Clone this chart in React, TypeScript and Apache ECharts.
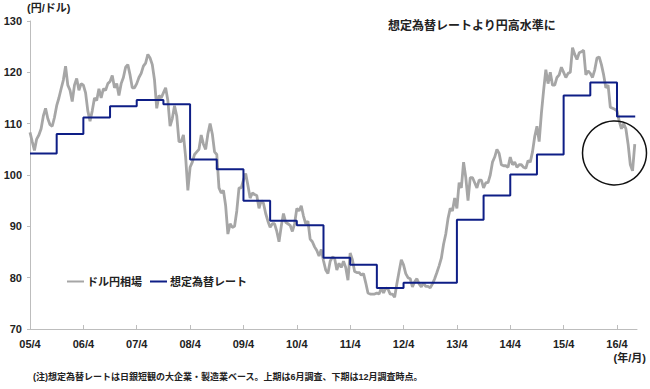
import React, { useEffect, useRef } from "react";
import * as echarts from "echarts";

// X tick labels (every April), month index 0 = 2005/4
const tickLabels = ["05/4", "06/4", "07/4", "08/4", "09/4", "10/4", "11/4", "12/4", "13/4", "14/4", "15/4", "16/4"];

// USD/JPY, two readings per month (1st and 16th), from 2005/4
const fx2005 = [108.3, 106.5, 104.8, 107.0, 107.8, 109.0, 111.5, 113.0, 111.0, 109.8, 109.5, 111.2, 113.5, 115.0, 116.8, 118.5, 121.2, 117.5];
const fx2006 = [116.5, 114.3, 117.5, 118.8, 116.5, 117.8, 117.5, 116.0, 112.5, 110.5, 112.5, 115.0, 114.5, 116.8, 115.0, 116.8, 116.5, 117.8, 118.2, 119.4, 117.0, 117.8, 115.5, 117.8];
const fx2007 = [119.0, 121.0, 121.5, 119.5, 117.0, 117.0, 117.8, 119.0, 119.8, 121.2, 121.8, 123.5, 122.8, 121.5, 118.5, 113.0, 115.5, 115.0, 116.0, 117.0, 114.5, 109.5, 111.0, 113.5];
const fx2008 = [111.5, 106.5, 106.5, 107.8, 103.5, 97.0, 101.5, 102.5, 104.0, 104.5, 105.0, 107.8, 106.0, 105.0, 108.0, 110.0, 108.0, 104.5, 104.0, 97.5, 96.5, 97.0, 94.0, 88.5];
const fx2009 = [90.5, 89.8, 90.0, 93.0, 97.5, 97.5, 99.0, 100.3, 98.0, 95.5, 96.5, 96.2, 96.0, 93.5, 95.0, 94.5, 92.5, 91.0, 89.8, 90.5, 90.5, 89.0, 87.0, 90.0];
const fx2010 = [92.5, 90.8, 90.5, 90.2, 89.0, 90.5, 93.5, 93.0, 94.0, 92.0, 90.5, 91.0, 87.5, 87.0, 86.0, 85.3, 84.2, 85.5, 83.3, 81.5, 80.8, 83.2, 84.0, 83.8];
const fx2011 = [81.5, 82.8, 82.0, 83.2, 82.0, 79.5, 84.8, 83.5, 81.2, 81.0, 81.0, 80.5, 80.8, 79.0, 77.0, 76.8, 76.8, 76.8, 77.0, 76.8, 78.0, 77.0, 78.0, 77.8];
const fx2012 = [76.8, 76.8, 76.2, 78.8, 81.2, 83.5, 82.5, 80.8, 80.0, 79.8, 78.2, 79.2, 79.8, 78.8, 78.2, 79.0, 78.3, 78.3, 78.0, 78.8, 79.8, 81.0, 82.3, 83.8];
const fx2013 = [86.5, 88.5, 91.5, 93.5, 93.0, 95.5, 93.5, 98.5, 97.5, 102.5, 99.5, 95.0, 99.5, 99.5, 98.5, 97.5, 99.0, 99.0, 97.5, 98.5, 98.5, 100.0, 102.5, 103.5];
const fx2014 = [105.0, 104.2, 102.0, 101.8, 101.8, 101.5, 103.5, 102.0, 102.5, 101.5, 102.0, 102.0, 101.5, 101.3, 102.8, 102.5, 104.5, 107.5, 109.5, 106.5, 112.0, 116.5, 120.5, 117.8];
const fx2015 = [120.0, 117.5, 117.5, 119.0, 119.5, 121.0, 120.0, 119.0, 119.8, 120.0, 124.8, 123.5, 122.5, 123.8, 124.0, 124.3, 119.5, 120.3, 119.8, 119.0, 120.5, 122.8, 123.0, 121.5];
const fx2016 = [119.5, 117.0, 117.5, 113.2, 113.0, 112.8, 112.5, 110.5, 109.0, 110.0, 109.0, 106.0, 102.0, 100.8, 106.0];

// Assumed rate (Tankan), half-year periods from 2005 H1 to 2016 H1
const assumedRate = [104.2, 108.0, 111.2, 113.4, 114.6, 113.8, 103.0, 101.1, 95.0, 91.1, 90.2, 83.9, 82.5, 78.0, 79.0, 79.0, 91.3, 96.0, 100.1, 104.0, 115.5, 118.0, 111.4];
const assumedEnd = 136.1;

const FONT = "'Liberation Sans', 'Noto Sans CJK JP', sans-serif";

export default function App() {
  const ref = useRef<HTMLDivElement>(null);
  useEffect(() => {
    document.body.style.margin = "0";
    const chart = echarts.init(ref.current!, null, { renderer: "svg" });
    const fxAll = [...fx2005, ...fx2006, ...fx2007, ...fx2008, ...fx2009, ...fx2010, ...fx2011, ...fx2012, ...fx2013, ...fx2014, ...fx2015, ...fx2016];
    const fxData = fxAll.map((v, i) => [i / 2, v]);
    const asData = assumedRate.map((v, k) => [6 * k, v]);
    asData.push([assumedEnd, assumedRate[assumedRate.length - 1]]);
    const tickVals = tickLabels.map((_, i) => i * 12);

    chart.setOption({
      animation: false,
      backgroundColor: "#fff",
      grid: { left: 30, right: 13, top: 21, bottom: 60 },
      legend: {
        left: 62,
        top: 271,
        icon: "rect",
        itemWidth: 17,
        itemHeight: 2,
        itemGap: 8,
        textStyle: { fontFamily: FONT, fontSize: 11, fontWeight: "bold", color: "#222", padding: [0, 0, 0, -2] },
        data: ["ドル円相場", "想定為替レート"],
      },
      xAxis: {
        type: "value",
        min: 0,
        max: 136.5,
        interval: 12,
        axisLine: { show: true, lineStyle: { color: "#bdbdbd", width: 1 } },
        axisTick: { show: true, inside: true, length: 4, customValues: tickVals, lineStyle: { color: "#bdbdbd" } },
        axisLabel: {
          customValues: tickVals,
          margin: 9,
          fontFamily: FONT,
          fontSize: 11,
          fontWeight: "bold",
          color: "#222",
          formatter: (v: number) => (v % 12 === 0 && tickLabels[v / 12]) || "",
        },
        splitLine: { show: false },
      },
      yAxis: {
        type: "value",
        min: 70,
        max: 130,
        interval: 10,
        axisLine: { show: true, lineStyle: { color: "#bdbdbd", width: 1 } },
        axisTick: { show: true, length: 3, lineStyle: { color: "#bdbdbd" } },
        axisLabel: { margin: 8, fontFamily: FONT, fontSize: 11, fontWeight: "bold", color: "#222" },
        splitLine: { show: false },
      },
      series: [
        {
          name: "ドル円相場",
          type: "line",
          data: fxData,
          showSymbol: false,
          symbol: "none",
          lineStyle: { color: "#a6a6a6", width: 2.8 },
          itemStyle: { color: "#a6a6a6" },
          z: 2,
        },
        {
          name: "想定為替レート",
          type: "line",
          step: "end",
          data: asData,
          showSymbol: false,
          symbol: "none",
          lineStyle: { color: "#0e1e86", width: 2 },
          itemStyle: { color: "#0e1e86" },
          z: 3,
        },
      ],
      graphic: [
        {
          type: "text",
          left: 27,
          top: 2,
          style: { text: "(円/ドル)", fill: "#222", font: `bold 11px ${FONT}` },
        },
        {
          type: "text",
          left: 388,
          top: 20,
          style: { text: "想定為替レートより円高水準に", fill: "#222", font: `bold 12px ${FONT}` },
        },
        {
          type: "circle",
          shape: { cx: 614.5, cy: 153, r: 32 },
          style: { fill: "none", stroke: "#111", lineWidth: 1.5 },
          z: 100,
        },
        {
          type: "text",
          right: 4,
          top: 352,
          style: { text: "(年/月)", fill: "#222", font: `bold 11px ${FONT}` },
        },
        {
          type: "text",
          left: 33,
          top: 372,
          style: {
            text: "(注)想定為替レートは日銀短観の大企業・製造業ベース。上期は6月調査、下期は12月調査時点。",
            fill: "#222",
            font: `bold 9px ${FONT}`,
          },
        },
      ],
    });
    return () => chart.dispose();
  }, []);
  return <div ref={ref} style={{ width: 650, height: 389 }} />;
}
